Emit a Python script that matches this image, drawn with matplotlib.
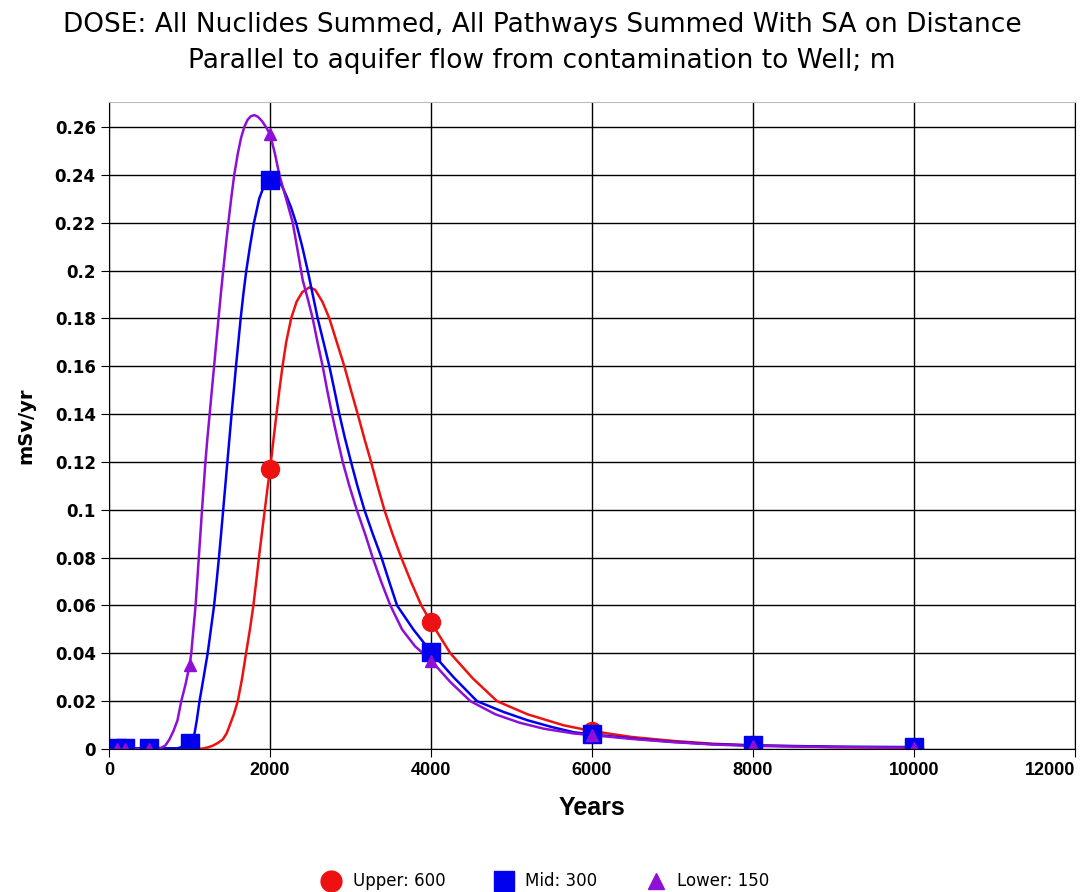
import matplotlib
matplotlib.use("Agg")
import matplotlib.pyplot as plt
from matplotlib.lines import Line2D

# values
upper_t = [100, 500, 1000, 1100, 1165, 1230, 1289, 1350, 1413, 1460, 1500, 1550, 1599, 1650,
           1702, 1750, 1793, 1828, 1862, 1898, 1935, 1972, 2000, 2045, 2080, 2116, 2155, 2200,
           2262, 2330, 2400, 2489, 2560, 2650, 2737, 2830, 2923, 3005, 3089, 3170, 3255, 3335,
           3420, 3520, 3630, 3750, 3880, 4000, 4240, 4520, 4820, 5200, 5648, 6000, 6500, 7000,
           7500, 8000, 9000, 10000]
upper_v = [0, 0, 0, 0, 0.0002, 0.0007, 0.0014, 0.0025, 0.004, 0.0065, 0.01, 0.0145, 0.02, 0.029,
           0.04, 0.05, 0.06, 0.07, 0.08, 0.09, 0.1, 0.11, 0.117, 0.13, 0.14, 0.15, 0.16, 0.17,
           0.18, 0.187, 0.191, 0.193, 0.192, 0.187, 0.18, 0.17, 0.16, 0.15, 0.14, 0.13, 0.12, 0.11,
           0.1, 0.09, 0.08, 0.07, 0.06, 0.053, 0.04, 0.0295, 0.02, 0.0145, 0.0099, 0.0075, 0.005,
           0.0034, 0.0022, 0.0015, 0.0008, 0.0005]

mid_t = [100, 500, 850, 900, 950, 1000, 1030, 1062, 1090, 1124, 1175, 1225, 1265, 1305, 1336,
         1365, 1392, 1418, 1444, 1470, 1496, 1522, 1550, 1577, 1606, 1635, 1668, 1705, 1750, 1800,
         1865, 1920, 1960, 2000, 2060, 2110, 2150, 2200, 2260, 2323, 2400, 2468, 2530, 2592, 2665,
         2737, 2800, 2861, 2930, 3006, 3085, 3172, 3275, 3385, 3480, 3578, 3780, 4000, 4280, 4571,
         4900, 5200, 5500, 5772, 6000, 6500, 7000, 7500, 8000, 9000, 10000]
mid_v = [0.0003, 0.0003, 0.0003, 0.0008, 0.0015, 0.0027, 0.004, 0.0065, 0.012, 0.02, 0.03, 0.04,
         0.05, 0.06, 0.07, 0.08, 0.09, 0.1, 0.11, 0.12, 0.13, 0.14, 0.15, 0.16, 0.17, 0.18, 0.19,
         0.2, 0.21, 0.22, 0.23, 0.235, 0.2372, 0.238, 0.2385, 0.2372, 0.2352, 0.2315, 0.2265,
         0.22, 0.21, 0.2, 0.19, 0.18, 0.17, 0.16, 0.15, 0.14, 0.13, 0.12, 0.11, 0.1, 0.09, 0.08,
         0.07, 0.06, 0.05, 0.0406, 0.03, 0.02, 0.0155, 0.012, 0.0092, 0.007, 0.0061, 0.0044,
         0.003, 0.002, 0.0015, 0.001, 0.0008]

lower_t = [100, 500, 650, 700, 750, 800, 850, 897, 950, 1000, 1021, 1048, 1075, 1095, 1115, 1135,
           1155, 1176, 1197, 1222, 1250, 1277, 1305, 1332, 1360, 1388, 1418, 1449, 1482, 1517,
           1555, 1600, 1640, 1680, 1720, 1760, 1805, 1850, 1900, 1950, 2000, 2060, 2116, 2200,
           2282, 2350, 2406, 2470, 2530, 2590, 2654, 2710, 2770, 2835, 2903, 2985, 3077, 3180,
           3275, 3380, 3495, 3640, 3800, 4000, 4240, 4489, 4800, 5100, 5400, 5772, 6000, 6500,
           7000, 7500, 8000, 9000, 10000]
lower_v = [0, 0, 0.0005, 0.0015, 0.004, 0.0075, 0.012, 0.02, 0.027, 0.035, 0.04, 0.05, 0.06,
           0.07, 0.08, 0.09, 0.1, 0.11, 0.12, 0.13, 0.14, 0.15, 0.16, 0.17, 0.18, 0.19, 0.2, 0.21,
           0.22, 0.23, 0.24, 0.249, 0.2555, 0.26, 0.263, 0.2645, 0.265, 0.2643, 0.2625, 0.26,
           0.257, 0.249, 0.24, 0.23, 0.22, 0.207, 0.196, 0.188, 0.18, 0.17, 0.16, 0.15, 0.14, 0.13,
           0.12, 0.11, 0.1, 0.09, 0.08, 0.07, 0.06, 0.05, 0.043, 0.037, 0.028, 0.02, 0.0145, 0.011,
           0.0085, 0.0065, 0.0058, 0.0042, 0.0029, 0.0019, 0.0013, 0.0008, 0.0006]

# marker positions (the saved time steps)
marker_t = [100, 200, 500, 1000, 2000, 4000, 6000, 8000, 10000]
upper_m = [0, 0, 0, 0, 0.117, 0.053, 0.0075, 0.0015, 0.0005]
mid_m = [0.0005, 0.0005, 0.0005, 0.0027, 0.238, 0.0406, 0.0061, 0.0015, 0.0008]
lower_m = [0, 0, 0, 0.035, 0.257, 0.037, 0.006, 0.0013, 0.0006]

labels = ["Upper: 600", "Mid: 300", "Lower: 150"]
red, blue, purple = "#ee1111", "#0000ee", "#8e0fd6"

fig = plt.figure(figsize=(10.84, 8.92), dpi=100)
ax = fig.add_axes([0.1006, 0.1603, 0.8911, 0.7254])

ax.plot(upper_t, upper_v, color=red, lw=1.8)
ax.plot(mid_t, mid_v, color=blue, lw=1.8)
ax.plot(lower_t, lower_v, color=purple, lw=1.8)
ax.plot(marker_t, upper_m, "o", color=red, ms=13, ls="none")
ax.plot(marker_t, mid_m, "s", color=blue, ms=12.5, ls="none")
ax.plot(marker_t, lower_m, "^", color=purple, ms=9, ls="none")

ax.set_xlim(0, 12000)
ax.set_ylim(0, 0.2705)
ax.set_xticks(range(0, 12001, 2000))
ax.set_yticks([i * 0.02 for i in range(14)])
ax.set_yticklabels(["0", "0.02", "0.04", "0.06", "0.08", "0.1", "0.12", "0.14", "0.16",
                    "0.18", "0.2", "0.22", "0.24", "0.26"])
ax.grid(True, color="black", lw=1)
ax.set_axisbelow(True)
ax.spines["top"].set_color("#bbbbbb")
ax.tick_params(direction="out", length=6, color="black")
for lab in ax.get_yticklabels():
    lab.set_fontweight("bold")
    lab.set_fontsize(12)
for lab in ax.get_xticklabels():
    lab.set_fontweight("bold")
    lab.set_fontsize(13)
    lab.set_family("Liberation Sans")
ax.get_xticklabels()[-1].set_horizontalalignment("right")

ax.set_ylabel("mSv/yr", fontsize=14, fontweight="bold", labelpad=14)
ax.set_xlabel("Years", fontsize=18, fontweight="bold", family="Liberation Sans", labelpad=12)

fig.text(0.5, 0.986, "DOSE: All Nuclides Summed, All Pathways Summed With SA on Distance\n"
         "Parallel to aquifer flow from contamination to Well; m",
         ha="center", va="top", fontsize=19, family="DejaVu Sans", linespacing=1.5)

handles = [Line2D([], [], marker="o", color=red, ms=15, ls="none"),
           Line2D([], [], marker="s", color=blue, ms=15, ls="none"),
           Line2D([], [], marker="^", color=purple, ms=12, ls="none")]
fig.legend(handles, labels, loc="lower center", ncol=3, frameon=False, fontsize=12,
           bbox_to_anchor=(0.5, -0.015), handletextpad=0.3, columnspacing=2.5)

fig.savefig("out.png", dpi=100)
